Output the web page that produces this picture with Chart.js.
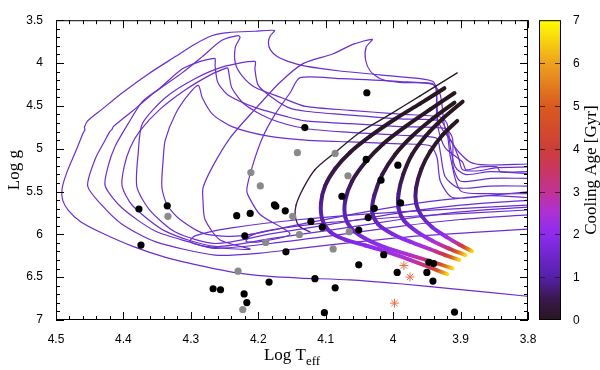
<!DOCTYPE html>
<html>
<head>
<meta charset="utf-8">
<script src="https://cdn.jsdelivr.net/npm/chart.js@4.4.0/dist/chart.umd.min.js"></script>
<style>
  html, body { margin: 0; padding: 0; background: #fff; }
  #wrap { width: 600px; height: 370px; }
</style>
</head>
<body>
<div id="wrap"><canvas id="chart" width="600" height="370"></canvas></div>
<script>
// observed stars [Log Teff, Log g]
const blackStars = [[4.377,5.704],[4.335,5.667],[4.374,6.125],[4.267,6.635],[4.256,6.647],[4.221,6.696],[4.217,6.796],[4.184,6.557],[4.232,5.782],[4.212,5.756],[4.220,6.017],[4.176,5.655],[4.174,5.672],[4.160,5.726],[4.159,6.204],[4.122,5.849],[4.105,5.916],[4.076,5.555],[4.051,5.950],[4.051,6.356],[4.116,6.517],[4.086,6.624],[4.102,6.915],[3.989,5.633],[4.028,5.696],[4.037,5.804],[4.014,6.237],[3.994,6.445],[3.947,6.327],[3.940,6.341],[3.950,6.445],[3.941,6.546],[3.909,6.908],[4.039,4.347],[4.040,5.125],[3.993,5.192],[4.018,5.368],[4.131,4.753]];
const grayStars = [[4.334,5.790],[4.230,6.430],[4.223,6.878],[4.189,6.095],[4.149,5.790],[4.139,6.002],[4.142,5.047],[4.211,5.278],[4.197,5.435],[4.086,5.055],[4.067,5.316],[4.065,5.969],[4.089,6.170]];
const crossStars = [[3.984,6.364],[3.975,6.498],[3.998,6.803]];

// evolutionary tracks (purple)
const evo1 = [[3.801,6.723],[3.915,6.633],[3.990,6.577],[4.064,6.532],[4.138,6.510],[4.187,6.488],[4.237,6.443],[4.286,6.365],[4.335,6.275],[4.386,6.141],[4.435,5.973],[4.464,5.850],[4.482,5.716],[4.490,5.604],[4.491,5.469],[4.484,5.279],[4.469,4.999],[4.460,4.820],[4.457,4.776],[4.458,4.753],[4.453,4.675],[4.432,4.541],[4.402,4.350],[4.363,4.127],[4.323,3.925],[4.294,3.780],[4.268,3.679],[4.245,3.645],[4.205,3.629],[4.176,3.620],[4.182,3.679],[4.185,3.757],[4.182,3.847],[4.172,3.925],[4.156,3.981],[4.130,4.037],[4.079,4.093],[4.019,4.138],[3.960,4.183],[3.941,4.216],[3.936,4.294],[3.935,4.653],[3.926,4.787],[3.912,4.932],[3.903,5.100],[3.897,5.246],[3.871,5.257],[3.849,5.223],[3.801,5.212]];
const evo2 = [[3.801,5.939],[3.960,6.018],[4.049,6.085],[4.138,6.163],[4.197,6.219],[4.264,6.242],[4.353,6.085],[4.402,5.883],[4.432,5.660],[4.453,5.436],[4.442,5.123],[4.427,4.899],[4.420,4.798],[4.417,4.776],[4.415,4.742],[4.387,4.563],[4.353,4.339],[4.313,4.115],[4.283,3.925],[4.254,3.735],[4.230,3.679],[4.227,3.701],[4.234,3.813],[4.234,4.004],[4.224,4.149],[4.205,4.283],[4.165,4.406],[4.130,4.507],[4.064,4.552],[3.990,4.597],[3.930,4.630],[3.920,4.708],[3.915,4.988],[3.908,5.212],[3.893,5.301],[3.856,5.268],[3.801,5.290]];
const evo3 = [[3.801,5.772],[3.900,5.827],[3.990,5.906],[4.093,6.018],[4.182,6.107],[4.264,6.163],[4.304,6.085],[4.353,5.962],[4.402,5.693],[4.427,5.436],[4.423,5.212],[4.412,4.966],[4.393,4.708],[4.372,4.451],[4.346,4.294],[4.313,4.071],[4.286,3.981],[4.268,3.948],[4.264,3.948],[4.264,4.037],[4.260,4.227],[4.245,4.373],[4.205,4.518],[4.156,4.630],[4.130,4.675],[4.064,4.708],[3.990,4.742],[3.923,4.764],[3.912,4.876],[3.911,5.212],[3.900,5.380],[3.856,5.346],[3.801,5.346]];
const evo4 = [[3.801,5.682],[3.900,5.738],[3.990,5.827],[4.093,5.951],[4.182,6.051],[4.264,6.141],[4.338,5.962],[4.387,5.660],[4.402,5.436],[4.399,5.212],[4.390,4.988],[4.375,4.787],[4.346,4.541],[4.309,4.317],[4.271,4.138],[4.248,4.060],[4.245,4.060],[4.243,4.149],[4.239,4.294],[4.220,4.485],[4.182,4.653],[4.130,4.764],[4.064,4.809],[3.990,4.843],[3.936,4.876],[3.930,5.044],[3.923,5.324],[3.903,5.458],[3.856,5.436],[3.801,5.436]];
const evo5 = [[3.801,5.604],[3.900,5.660],[3.990,5.749],[4.093,5.883],[4.182,5.995],[4.264,6.107],[4.323,5.973],[4.361,5.716],[4.380,5.447],[4.378,5.044],[4.372,4.708],[4.338,4.406],[4.294,4.183],[4.249,4.037],[4.205,3.981],[4.205,4.071],[4.200,4.261],[4.179,4.406],[4.156,4.518],[4.130,4.563],[4.064,4.608],[3.990,4.653],[3.930,4.675],[3.920,4.820],[3.915,5.100],[3.900,5.492],[3.856,5.525],[3.801,5.525]];
const evo6 = [[3.801,5.503],[3.945,5.615],[4.049,5.749],[4.138,5.883],[4.227,6.018],[4.279,5.995],[4.316,5.827],[4.335,5.660],[4.343,5.447],[4.341,5.123],[4.338,4.899],[4.323,4.597],[4.304,4.373],[4.289,4.261],[4.283,4.406],[4.268,4.597],[4.239,4.742],[4.185,4.854],[4.130,4.899],[4.064,4.921],[3.990,4.944],[3.945,4.966],[3.935,5.100],[3.930,5.380],[3.912,5.570],[3.856,5.548],[3.801,5.570]];
const loop1 = [[3.801,5.660],[3.990,5.738],[4.138,5.827],[4.242,5.928],[4.294,6.018],[4.301,6.085],[4.279,6.141],[4.212,6.174],[4.257,6.063],[4.279,5.827],[4.282,5.604],[4.282,5.458],[4.268,5.212],[4.242,4.876],[4.205,4.541],[4.168,4.227],[4.133,4.004],[4.089,3.892],[4.059,3.780],[4.031,3.724],[4.040,3.813],[4.041,3.959],[4.034,4.093],[4.019,4.183],[3.990,4.227],[3.942,4.239],[3.936,4.317],[3.933,4.764],[3.923,4.988],[3.897,5.156],[3.892,5.246],[3.871,5.212],[3.846,5.212],[3.841,5.268],[3.801,5.268]];
const loop2 = [[3.801,5.716],[3.960,5.783],[4.093,5.861],[4.182,5.951],[4.212,6.018],[4.218,6.085],[4.197,6.085],[4.153,5.995],[4.197,5.772],[4.215,5.548],[4.217,5.469],[4.209,5.212],[4.194,4.876],[4.175,4.597],[4.153,4.350],[4.138,4.171],[4.079,4.183],[3.990,4.216],[3.941,4.250],[3.930,4.373],[3.923,4.764],[3.908,4.988],[3.886,5.156],[3.863,5.190],[3.801,5.179]];

// cooling tracks [Log Teff, Log g] and cooling age along them [Gyr]
const cool1 = [[3.924,4.294],[3.960,4.474],[3.997,4.653],[4.034,4.854],[4.064,5.044],[4.086,5.234],[4.101,5.436],[4.107,5.637],[4.105,5.827],[4.093,5.973],[4.071,6.063],[4.041,6.130],[4.012,6.197],[3.975,6.298],[3.945,6.387],[3.920,6.465]];
const cool1Age = [0,0.03,0.06,0.1,0.2,0.35,0.6,0.9,1.2,1.5,1.75,1.95,2.2,2.6,3.6,6.6];
const cool2 = [[3.909,4.350],[3.945,4.541],[3.982,4.742],[4.015,4.944],[4.041,5.156],[4.061,5.380],[4.071,5.604],[4.071,5.794],[4.061,5.939],[4.041,6.051],[4.012,6.152],[3.975,6.242],[3.938,6.331],[3.912,6.398]];
const cool2Age = [0,0.03,0.06,0.1,0.25,0.5,0.85,1.2,1.5,1.8,2.1,2.6,3.6,6.6];
const cool3 = [[3.909,4.462],[3.942,4.653],[3.972,4.854],[3.997,5.067],[4.016,5.301],[4.028,5.548],[4.031,5.738],[4.022,5.883],[4.001,5.995],[3.975,6.085],[3.945,6.174],[3.923,6.242],[3.902,6.298]];
const cool3Age = [0,0.03,0.06,0.15,0.4,0.75,1.1,1.4,1.75,2.1,2.7,3.8,6.6];
const cool4 = [[3.897,4.451],[3.927,4.653],[3.952,4.854],[3.972,5.067],[3.985,5.301],[3.992,5.525],[3.992,5.693],[3.984,5.839],[3.966,5.962],[3.942,6.074],[3.918,6.163],[3.893,6.242]];
const cool4Age = [0,0.03,0.06,0.15,0.4,0.75,1.1,1.45,1.8,2.3,3.3,6.6];
const cool5 = [[3.905,4.675],[3.927,4.843],[3.945,5.033],[3.958,5.234],[3.966,5.458],[3.966,5.637],[3.958,5.783],[3.942,5.917],[3.921,6.029],[3.902,6.118],[3.883,6.197]];
const cool5Age = [0,0.05,0.12,0.3,0.6,0.95,1.3,1.7,2.2,3.2,6.6];
const thinTrack = [[3.905,4.115],[3.960,4.384],[4.004,4.597],[4.049,4.809],[4.086,5.044],[4.116,5.246],[4.133,5.458],[4.144,5.660],[4.145,5.794],[4.139,5.906],[4.123,5.973]];
const thinAge = [0,0.02,0.04,0.06,0.1,0.2,0.35,0.5,0.7,0.85,1.0];

const ageTicks = [0,1,2,3,4,5,6,7];

// palette of the colour bar
const ageStops = [
    [0, [40, 22, 32]], [0.5, [58, 24, 78]], [1, [84, 32, 168]], [2, [140, 44, 240]],
    [2.5, [172, 48, 214]], [3, [194, 50, 150]], [3.5, [200, 54, 96]], [4, [204, 62, 56]],
    [5, [218, 90, 30]], [6, [238, 162, 30]], [7, [255, 255, 0]]
];
function ageColor(a) {
    if (a <= 0) return `rgb(${ageStops[0][1].join(',')})`;
    for (let i = 1; i < ageStops.length; i++) {
        const [a1, c1] = ageStops[i];
        if (a <= a1) {
            const [a0, c0] = ageStops[i - 1];
            const t = (a - a0) / (a1 - a0);
            const c = c0.map((v, k) => Math.round(v + (c1[k] - v) * t));
            return `rgb(${c.join(',')})`;
        }
    }
    return 'rgb(255,255,0)';
}

const toXY = arr => arr.map(p => ({ x: p[0], y: p[1] }));
const PURPLE = '#6b2ecf';

// gradient along each segment of a cooling track
function segColor(c) {
    const ds = c.chart.data.datasets[c.datasetIndex];
    const a0 = ds.ages[c.p0DataIndex], a1 = ds.ages[c.p1DataIndex];
    const g = c.chart.ctx.createLinearGradient(c.p0.x, c.p0.y, c.p1.x, c.p1.y);
    for (let t = 0; t <= 1.001; t += 0.2) g.addColorStop(Math.min(t, 1), ageColor(a0 + (a1 - a0) * t));
    return g;
}

function coolSet(pts, ages, width) {
    return {
        data: toXY(pts), ages: ages, showLine: true, borderWidth: width,
        borderColor: '#000', pointRadius: 0, tension: 0.3,
        borderCapStyle: 'round', borderJoinStyle: 'round',
        segment: { borderColor: segColor }
    };
}
function evoSet(pts) {
    return {
        data: toXY(pts), showLine: true, borderWidth: 1.2, borderColor: PURPLE,
        pointRadius: 0, tension: 0.25
    };
}

const datasets = [
    { data: toXY(crossStars), pointStyle: 'star', pointRadius: 4.5, borderColor: '#e8704a', borderWidth: 1, backgroundColor: '#e8704a' },
    { data: toXY(blackStars), pointRadius: 3.6, backgroundColor: '#000', borderWidth: 0 },
    { data: toXY(grayStars), pointRadius: 3.6, backgroundColor: '#8a8a8a', borderWidth: 0 },
    coolSet(thinTrack, thinAge, 1.3),
    coolSet(cool1, cool1Age, 4),
    coolSet(cool2, cool2Age, 4),
    coolSet(cool3, cool3Age, 4),
    coolSet(cool4, cool4Age, 4),
    coolSet(cool5, cool5Age, 4),
    evoSet(evo1), evoSet(evo2), evoSet(evo3), evoSet(evo4), evoSet(evo5), evoSet(evo6),
    evoSet(loop1), evoSet(loop2)
];

const SANS = '"Liberation Sans", Arial, sans-serif';
const SERIF = '"Liberation Serif", "Times New Roman", serif';
const fmt = v => String(+(+v).toFixed(2));

// frame with inward ticks, axis titles and colour bar
const decor = {
    id: 'decor',
    afterDatasetsDraw(chart) {
        const { ctx, chartArea: a, scales: { x, y } } = chart;
        ctx.save();
        ctx.strokeStyle = '#000';
        ctx.lineWidth = 1;
        const seg = (x1, y1, x2, y2) => { ctx.beginPath(); ctx.moveTo(x1, y1); ctx.lineTo(x2, y2); ctx.stroke(); };
        ctx.strokeRect(a.left + 0.5, a.top + 0.5, a.right - a.left - 1, a.bottom - a.top - 1);
        for (let i = 0; i <= 35; i++) {
            const px = Math.round(x.getPixelForValue(3.8 + i * 0.02)) + 0.5;
            const len = i % 5 === 0 ? 8 : 4;
            seg(px, a.bottom, px, a.bottom - len);
            seg(px, a.top, px, a.top + len);
        }
        for (let i = 0; i <= 35; i++) {
            const py = Math.round(y.getPixelForValue(3.5 + i * 0.1)) + 0.5;
            const len = i % 5 === 0 ? 8 : 4;
            seg(a.left, py, a.left + len, py);
            seg(a.right, py, a.right - len, py);
        }
        // axis titles
        ctx.fillStyle = '#000';
        ctx.textBaseline = 'middle';
        ctx.textAlign = 'left';
        const t1 = 'Log T';
        ctx.font = '17px ' + SERIF;
        const w1 = ctx.measureText(t1).width;
        ctx.font = '13px ' + SERIF;
        const w2 = ctx.measureText('eff').width;
        const sx = (a.left + a.right) / 2 - (w1 + w2) / 2;
        ctx.font = '17px ' + SERIF;
        ctx.fillText(t1, sx, 356);
        ctx.font = '13px ' + SERIF;
        ctx.fillText('eff', sx + w1, 362);
        ctx.save();
        ctx.translate(15, (a.top + a.bottom) / 2);
        ctx.rotate(-Math.PI / 2);
        ctx.textAlign = 'center';
        ctx.font = '17px ' + SERIF;
        ctx.fillText('Log g', 0, 0);
        ctx.restore();

        // colour bar
        const bl = 539, br = 561, bt = a.top, bb = a.bottom;
        const grad = ctx.createLinearGradient(0, bb, 0, bt);
        for (let v = 0; v <= 7; v += 0.25) grad.addColorStop(v / 7, ageColor(v));
        ctx.fillStyle = grad;
        ctx.fillRect(bl, bt, br - bl, bb - bt);
        ctx.strokeStyle = '#000';
        ctx.strokeRect(bl + 0.5, bt + 0.5, br - bl - 1, bb - bt - 1);
        ctx.fillStyle = '#000';
        ctx.font = '12px ' + SANS;
        ctx.textAlign = 'left';
        ctx.textBaseline = 'middle';
        ageTicks.forEach(v => {
            const py = Math.round(bb - (bb - bt) * v / 7) + 0.5;
            if (v > 0 && v < 7) {
                ctx.strokeStyle = 'rgba(40,20,20,0.8)';
                seg(bl, py, bl + 6, py);
                seg(br, py, br - 6, py);
            }
            ctx.fillText(String(v), 573, py);
        });
        ctx.save();
        ctx.translate(592, (bt + bb) / 2);
        ctx.rotate(-Math.PI / 2);
        ctx.textAlign = 'center';
        ctx.font = '17px ' + SERIF;
        ctx.fillText('Cooling Age [Gyr]', 0, 0);
        ctx.restore();
        ctx.restore();
    }
};

new Chart(document.getElementById('chart'), {
    type: 'scatter',
    data: { datasets: datasets },
    options: {
        responsive: false,
        animation: false,
        devicePixelRatio: 1,
        events: [],
        layout: { padding: { top: 7, right: 72, left: 0, bottom: 0 } },
        plugins: { legend: { display: false }, tooltip: { enabled: false } },
        scales: {
            x: {
                type: 'linear', reverse: true, min: 3.8, max: 4.5,
                ticks: { stepSize: 0.1, callback: fmt, color: '#000', font: { family: SANS, size: 12 }, padding: 12, maxRotation: 0, autoSkip: false },
                grid: { display: false, drawTicks: false },
                border: { display: false },
                afterFit: s => { s.height = 50; }
            },
            y: {
                type: 'linear', reverse: true, min: 3.5, max: 7,
                ticks: { stepSize: 0.5, callback: fmt, color: '#000', font: { family: SANS, size: 12 }, padding: 13 },
                grid: { display: false, drawTicks: false },
                border: { display: false },
                afterFit: s => { s.width = 56; }
            }
        }
    },
    plugins: [decor]
});
</script>
</body>
</html>
